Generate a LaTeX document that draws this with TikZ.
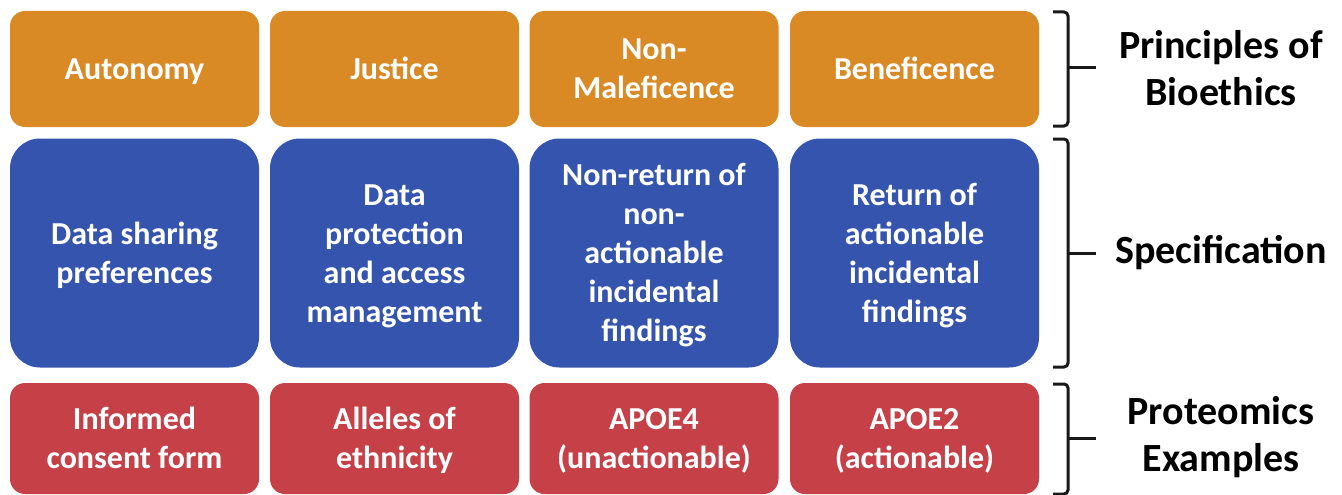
\documentclass[tikz,border=0pt]{standalone}
\usepackage{fontspec}
\setmainfont{Carlito}
\definecolor{principle}{RGB}{217,138,36}
\definecolor{specblue}{RGB}{53,84,174}
\definecolor{examplered}{RGB}{198,64,72}
% strut that puts the middle of the capitals at the middle of the line box
\newcommand\cellstrut{\rule[-9pt]{0pt}{39pt}}
\newcommand\celltext[1]{\cellstrut#1\cellstrut}
\begin{document}
\begin{tikzpicture}[x=1pt,y=-1pt,
  cell/.style={draw=none, minimum width=249pt, align=center, text=white,
    font=\bfseries\fontsize{32}{39}\selectfont, inner sep=0pt},
  toprow/.style={cell, fill=principle, minimum height=116pt, rounded corners=15pt},
  midrow/.style={cell, fill=specblue, minimum height=229pt, rounded corners=30pt},
  botrow/.style={cell, fill=examplered, minimum height=111pt, rounded corners=15pt},
  rowlabel/.style={align=center, font=\bfseries\fontsize{40}{47}\selectfont, inner sep=0pt},
  bracket/.style={line width=3pt, black!90, rounded corners=4pt}
]
\useasboundingbox (0,0) rectangle (1342,495);

% principles of bioethics
\node[toprow] (p1) at (134.5,69) {\celltext{Autonomy}};
\node[toprow] (p2) at (394.5,69) {\celltext{Justice}};
\node[toprow] (p3) at (654,69) {\celltext{Non-\\Maleficence}};
\node[toprow] (p4) at (914.5,69) {\celltext{Beneficence}};

% specification
\node[midrow] (s1) at (134.5,253) {\celltext{Data sharing\\preferences}};
\node[midrow] (s2) at (394.5,253) {\celltext{Data\\protection\\and access\\management}};
\node[midrow] (s3) at (654,253) {\celltext{Non-return of\\non-\\actionable\\incidental\\findings}};
\node[midrow] (s4) at (914.5,253) {\celltext{Return of\\actionable\\incidental\\findings}};

% proteomics examples
\node[botrow] (e1) at (134.5,438.5) {\celltext{Informed\\consent form}};
\node[botrow] (e2) at (394.5,438.5) {\celltext{Alleles of\\ethnicity}};
\node[botrow] (e3) at (654,438.5) {\celltext{APOE4\\(unactionable)}};
\node[botrow] (e4) at (914.5,438.5) {\celltext{APOE2\\(actionable)}};

% row labels
\node[rowlabel] (l1) at (1221,68) {Principles of\\Bioethics};
\node[rowlabel] (l2) at (1221,253) {Specification};
\node[rowlabel] (l3) at (1221,437) {Proteomics\\Examples};

% brackets
\foreach \ya/\yb/\ym in {12/126/68, 139/367/253, 384/494/438}{
  \draw[bracket] (1053,\ya) -- (1068,\ya) -- (1068,\yb) -- (1053,\yb);
  \draw[line width=3pt, black!90] (1068,\ym) -- (1096,\ym);
}
\end{tikzpicture}
\end{document}
